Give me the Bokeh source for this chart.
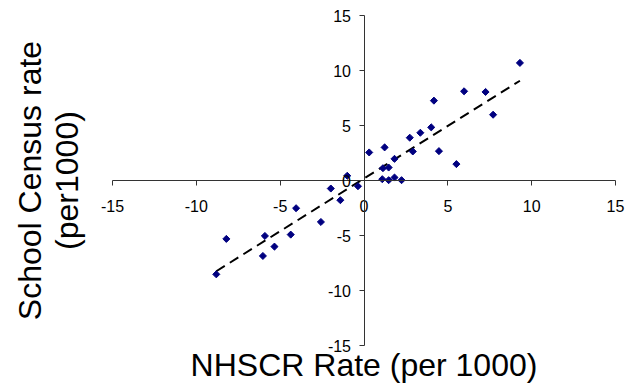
import numpy as np
from bokeh.plotting import figure
from bokeh.models import Range1d, FixedTicker, Label, ColumnDataSource, PrintfTickFormatter
from bokeh.embed import file_html
from bokeh.resources import INLINE

# NHSCR rate vs School Census rate, per 1000
nhscr_rate = [9.30, 5.97, 7.25, 4.17, 7.70, 4.01, 3.36, 2.73, 1.23, 0.31,
              2.91, 4.47, 1.82, 5.51, 1.13, 1.47, 1.09, 1.47, 1.82, 2.24,
              -1.00, -0.36, -1.98, -1.41, -4.05, -2.57, -4.37, -5.91, -8.21,
              -5.34, -6.03, -8.81]
census_rate = [10.69, 8.11, 8.05, 7.26, 5.98, 4.83, 4.34, 3.89, 3.01, 2.55,
               2.64, 2.67, 1.97, 1.49, 1.12, 1.18, 0.12, 0.03, 0.27, 0.03,
               0.43, -0.52, -0.73, -1.79, -2.52, -3.77, -4.92, -5.04, -5.31,
               -6.01, -6.86, -8.53]
axis_ticks = [-15, -10, -5, 0, 5, 10, 15]

FONT = "Liberation Sans"
W, H = 633, 387
# plotting box inside the canvas (pixels), the axes span -15..15 across it
LEFT, RIGHT, TOP, BOTTOM = 112, 615, 15, 345
xppu = (RIGHT - LEFT) / 30.0
yppu = (BOTTOM - TOP) / 30.0
x_range = Range1d(-15 - LEFT / xppu, 15 + (W - RIGHT) / xppu)
y_range = Range1d(-15 - (H - BOTTOM) / yppu, 15 + TOP / yppu)


def px_x(px):
    return -15 + (px - LEFT) / xppu


def px_y(py):
    return -15 + (BOTTOM - py) / yppu


p = figure(width=W, height=H, output_backend="svg", toolbar_location=None,
           x_range=x_range, y_range=y_range,
           min_border=0, min_border_left=0, min_border_right=0,
           min_border_top=0, min_border_bottom=0)
p.outline_line_color = None
p.xgrid.visible = False
p.ygrid.visible = False
p.background_fill_color = "white"
p.border_fill_color = "white"

# axes crossing at the origin
for ax in (p.xaxis[0], p.yaxis[0]):
    ax.fixed_location = 0
    ax.bounds = (-15, 15)
    ax.ticker = FixedTicker(ticks=axis_ticks)
    ax.formatter = PrintfTickFormatter(format="%d")
    ax.minor_tick_line_color = None
    ax.major_tick_in = 0
    ax.major_tick_out = 5
    ax.axis_line_color = "#333333"
    ax.major_tick_line_color = "#333333"
    ax.major_label_text_font = FONT
    ax.major_label_text_font_size = "16px"
    ax.major_label_text_color = "black"
p.xaxis.major_label_standoff = 14
p.yaxis.major_label_standoff = 8

# linear trend line over the data extent
slope, intercept = np.polyfit(nhscr_rate, census_rate, 1)
xs = np.array([min(nhscr_rate), max(nhscr_rate)])
p.line(xs, slope * xs + intercept, line_color="black", line_width=2,
       line_dash="10 6")

src = ColumnDataSource(dict(x=nhscr_rate, y=census_rate))
p.scatter("x", "y", source=src, marker="square", angle=np.pi / 4, size=5,
          fill_color="#000080", line_color="#000080")

# axis titles
title_style = dict(text_font=FONT, text_font_size="32px", text_align="center",
                   text_baseline="alphabetic", text_color="black")
p.add_layout(Label(x=0, y=px_y(364), text="NHSCR Rate (per 1000)", **title_style))
p.add_layout(Label(x=px_x(29), y=0, text="School Census rate",
                   angle=np.pi / 2, **title_style))
p.add_layout(Label(x=px_x(66), y=0, text="(per1000)",
                   angle=np.pi / 2, **title_style))

open("out.html", "w").write(file_html(p, INLINE))
